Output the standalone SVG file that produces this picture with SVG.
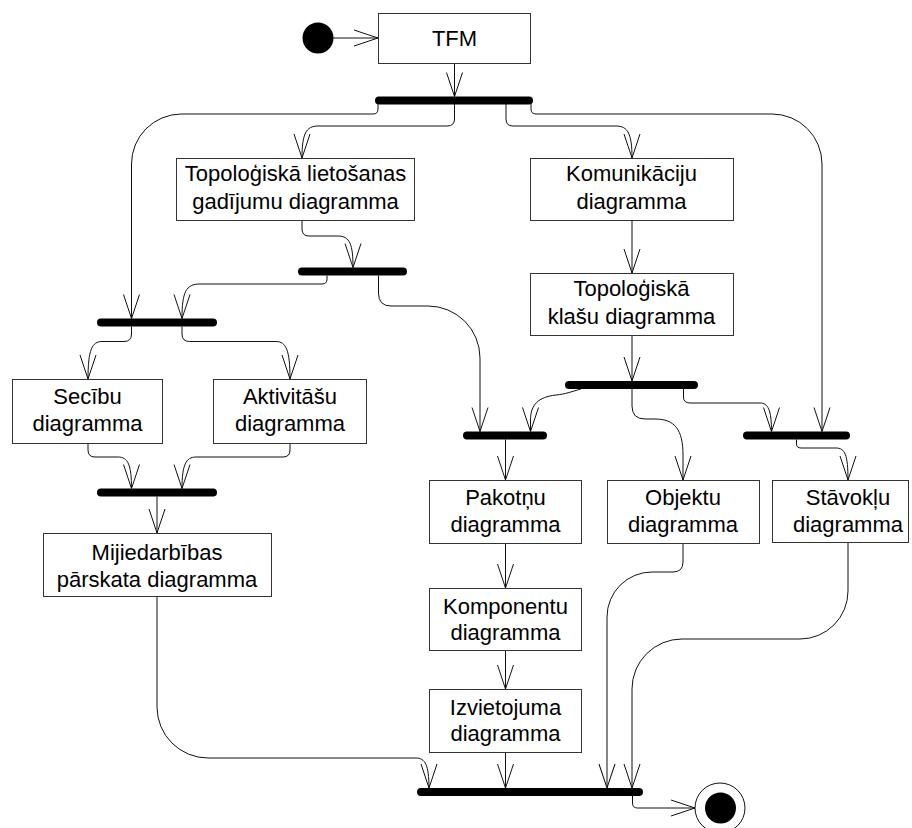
<svg xmlns="http://www.w3.org/2000/svg" width="912" height="828" viewBox="0 0 912 828">
<style>
.box{fill:#fff;stroke:#333;stroke-width:1}
.bar{fill:#000}
.lbl{font-family:"Liberation Sans",Arial,sans-serif;font-size:22px;fill:#000;text-anchor:middle}
.c{fill:none;stroke:#111;stroke-width:1;marker-end:url(#arr)}
</style>
<defs>
<marker id="arr" markerUnits="userSpaceOnUse" markerWidth="30" markerHeight="20" refX="0" refY="0" viewBox="-26 -10 28 20" orient="auto" overflow="visible">
<path d="M-24,-8 L0,0 L-24,8" fill="none" stroke="#111" stroke-width="1"/>
</marker>
</defs>
<rect width="912" height="828" fill="#fff"/>
<g id="connectors">
<path class="c" d="M333,38 L378,38"/>
<path class="c" d="M454.5,63 L454.5,96.5"/>
<path class="c" d="M378,104 L378,109 Q378,114 373,114 L181,114 A50,50 0 0 0 131.5,164 L131.5,318.5"/>
<path class="c" d="M454.5,104 L454.5,119 Q454.5,126 447,126 L318,126 C306,126 302,134 302,158"/>
<path class="c" d="M506,104 L506,119 Q506,126 513,126 L616,126 C628,126 632,134 632,158"/>
<path class="c" d="M531,104 L531,109 Q531,114 536,114 L772,114 A50,50 0 0 1 822,164 L822,431.5"/>
<path class="c" d="M302,221 L302,229 Q302,236 309,236 L338,236 C350,236 353,245 353,267.5"/>
<path class="c" d="M327,275.5 L327,279 Q327,284 322,284 L200,284 C186,284 182,292 182,318.5"/>
<path class="c" d="M378.5,275.5 L378.5,293 Q378.5,306 391,306 L428,306 A52,52 0 0 1 480,358 L480,431.5"/>
<path class="c" d="M632,221 L632,273"/>
<path class="c" d="M632,336 L632,381"/>
<path class="c" d="M131.5,326.5 L131.5,334 Q131.5,341.5 124,341.5 L102,341.5 C92,341.5 88,350 88,379"/>
<path class="c" d="M182,326.5 L182,334 Q182,341.5 189.5,341.5 L276,341.5 C286,341.5 290,350 290,379"/>
<path class="c" d="M88,443 L88,450 Q88,457 95,457 L118,457 C128,457 131.5,465 131.5,488.5"/>
<path class="c" d="M290,443 L290,450 Q290,457 283,457 L196,457 C186,457 182,465 182,488.5"/>
<path class="c" d="M157,496.5 L157,533"/>
<path class="c" d="M157,597 L157,707 A51,51 0 0 0 208,758 L416,758 C425,758 429,765 429,788"/>
<path class="c" d="M581,389 C570,392 566,394 556,395 C538,397 530.5,405 530.5,420 L530.5,431.5"/>
<path class="c" d="M632,389 L632,406 Q632,419 645,419 L655,419 C675,419 683,430 683,455 L683,480"/>
<path class="c" d="M683.5,389 L683.5,397 Q683.5,403 690,403 L760,403 C768,403 771.5,410 771.5,431.5"/>
<path class="c" d="M796.5,439.5 L796.5,444 Q796.5,448 801,448 L836,448 C845,448 848,455 848,480"/>
<path class="c" d="M505.5,439.5 L505.5,480"/>
<path class="c" d="M505.5,544 L505.5,588"/>
<path class="c" d="M505.5,651 L505.5,689"/>
<path class="c" d="M505.5,752 L505.5,788"/>
<path class="c" d="M683,544 L683,562 Q683,572 673,572 L652,572 A45,45 0 0 0 607,617 L607,788"/>
<path class="c" d="M848,543 L848,591 A48,48 0 0 1 800,639 L682,639 A50,50 0 0 0 632,689 L632,788"/>
<path class="c" d="M632.5,796 L632.5,803 Q632.5,808 637.5,808 L695,808"/>
</g>
<g id="start"><circle cx="318" cy="38" r="15.5" fill="#000"/></g>
<g id="end"><circle cx="720" cy="808" r="25" fill="#fff" stroke="#111" stroke-width="1"/><circle cx="720.5" cy="808" r="15.5" fill="#000"/></g>
<g id="bar1"><rect class="bar" x="375" y="96.5" width="158" height="8" rx="4"/></g>
<g id="bar2"><rect class="bar" x="298" y="267.5" width="109" height="8" rx="4"/></g>
<g id="bar3"><rect class="bar" x="97" y="318.5" width="120" height="8" rx="4"/></g>
<g id="bar5"><rect class="bar" x="97" y="488.5" width="120" height="8" rx="4"/></g>
<g id="bar4"><rect class="bar" x="463" y="431.5" width="84" height="8" rx="4"/></g>
<g id="bar6"><rect class="bar" x="565" y="381" width="133" height="8" rx="4"/></g>
<g id="bar7"><rect class="bar" x="743" y="431.5" width="107" height="8" rx="4"/></g>
<g id="bar8"><rect class="bar" x="417" y="788" width="226" height="8" rx="4"/></g>
<g id="tfm"><rect class="box" x="378.5" y="13.5" width="152" height="50"/><text class="lbl" x="454.5" y="45.5">TFM</text></g>
<g id="topo-liet"><rect class="box" x="176.5" y="158.5" width="238" height="62"/><text class="lbl" x="295.5" y="181">Topoloģiskā lietošanas</text><text class="lbl" x="295.5" y="208.5">gadījumu diagramma</text></g>
<g id="komunik"><rect class="box" x="530.5" y="158.5" width="203" height="62"/><text class="lbl" x="631.5" y="181">Komunikāciju</text><text class="lbl" x="631.5" y="208.5">diagramma</text></g>
<g id="topo-klasu"><rect class="box" x="530.5" y="273.5" width="203" height="62"/><text class="lbl" x="631.5" y="296">Topoloģiskā</text><text class="lbl" x="631.5" y="323.5">klašu diagramma</text></g>
<g id="secibu"><rect class="box" x="12.5" y="379.5" width="150" height="64"/><text class="lbl" x="87.5" y="404">Secību</text><text class="lbl" x="87.5" y="430.5">diagramma</text></g>
<g id="aktiv"><rect class="box" x="213.5" y="379.5" width="153" height="64"/><text class="lbl" x="290" y="404">Aktivitāšu</text><text class="lbl" x="290" y="430.5">diagramma</text></g>
<g id="mij"><rect class="box" x="43.5" y="533.5" width="228" height="63"/><text class="lbl" x="157" y="560">Mijiedarbības</text><text class="lbl" x="157" y="587">pārskata diagramma</text></g>
<g id="pakotnu"><rect class="box" x="429.5" y="480.5" width="152" height="63"/><text class="lbl" x="505.5" y="505">Pakotņu</text><text class="lbl" x="505.5" y="532">diagramma</text></g>
<g id="objektu"><rect class="box" x="607.5" y="480.5" width="152" height="63"/><text class="lbl" x="683" y="505">Objektu</text><text class="lbl" x="683" y="532">diagramma</text></g>
<g id="stavoklu"><rect class="box" x="772.5" y="480.5" width="136" height="62"/><text class="lbl" x="848" y="505">Stāvokļu</text><text class="lbl" x="848" y="532">diagramma</text></g>
<g id="komponentu"><rect class="box" x="429.5" y="588.5" width="152" height="62"/><text class="lbl" x="505.5" y="613.5">Komponentu</text><text class="lbl" x="505.5" y="640">diagramma</text></g>
<g id="izviet"><rect class="box" x="429.5" y="689.5" width="152" height="63"/><text class="lbl" x="505.5" y="714.5">Izvietojuma</text><text class="lbl" x="505.5" y="740.5">diagramma</text></g>
</svg>
